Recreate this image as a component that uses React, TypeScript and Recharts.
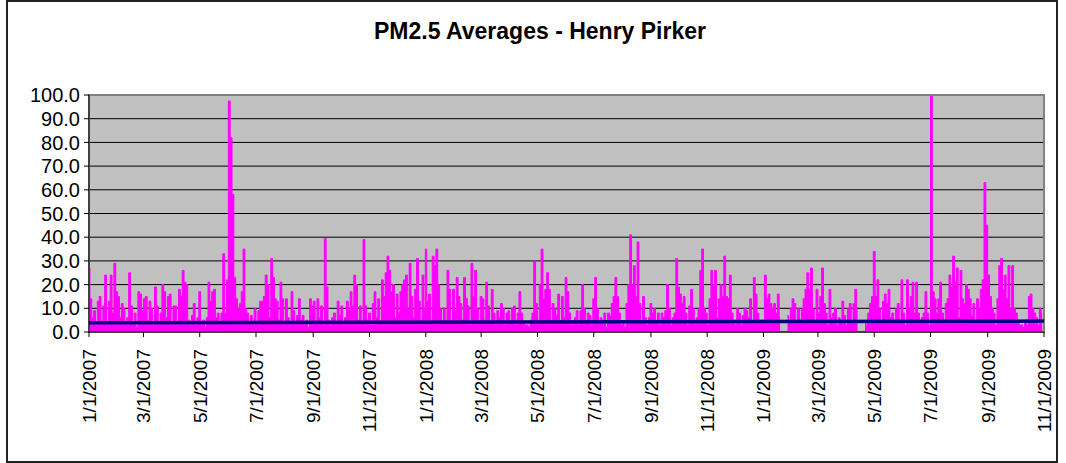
import { ComposedChart, Area, XAxis, YAxis, CartesianGrid, ReferenceLine, ReferenceArea } from 'recharts';

const tickLabels = [
  '1/1/2007', '3/1/2007', '5/1/2007', '7/1/2007', '9/1/2007', '11/1/2007',
  '1/1/2008', '3/1/2008', '5/1/2008', '7/1/2008', '9/1/2008', '11/1/2008',
  '1/1/2009', '3/1/2009', '5/1/2009', '7/1/2009', '9/1/2009', '11/1/2009',
];
const yTicks = [0, 10, 20, 30, 40, 50, 60, 70, 80, 90, 100];

// readings every second day, starting on Jan 1 of each year
const pm2007 = [
  27, 14, 6, 9, 3, 13, 15, 5, 11, 24,
  4, 13, 24, 8, 29, 17, 15, 6, 12, 10,
  3, 6, 25, 11, 4, 8, 2, 17, 16, 9,
  14, 15, 5, 13, 10, 3, 19, 11, 4, 8,
  20, 17, 6, 15, 16, 4, 11, 11, 3, 18,
  15, 26, 21, 20, 5, 3, 7, 12, 3, 6,
  17, 4, 5, 2, 6, 21, 13, 17, 18, 6,
  8, 3, 8, 33, 8, 22, 97.5, 82, 58, 23,
  14, 10, 12, 17, 35, 10, 8, 4, 7, 3,
  10, 4, 9, 13, 13, 15, 24, 20, 6, 31,
  23, 14, 13, 5, 21, 14, 4, 14, 6, 3,
  17, 9, 4, 7, 14, 5, 7, 3, 5, 2,
  14, 11, 13, 4, 14, 6, 11, 3, 39.5, 19,
  5, 3, 6, 8, 4, 13, 7, 11, 3, 6,
  13, 9, 17, 11, 24, 20, 5, 11, 4, 39,
  11, 5, 8, 3, 12, 17, 6, 14, 4, 22,
  15, 25, 32, 26, 17, 20, 6, 16, 8, 17,
  20, 22, 24, 10, 29, 15, 6, 18, 31, 13, 5, 24, 10,
];

const pm2008 = [
  35, 13, 16, 5, 32, 28, 35, 20, 10, 4,
  10, 5, 26, 18, 4, 18, 9, 23, 15, 12,
  5, 23, 14, 11, 3, 29, 15, 26, 10, 4,
  15, 14, 5, 21, 11, 4, 18, 8, 3, 9,
  6, 12, 10, 3, 8, 9, 4, 10, 11, 3,
  8, 17, 8, 4, 3, 3, 2, 5, 8, 30,
  12, 5, 20, 35, 14, 18, 25, 18, 5, 12,
  10, 7, 16, 4, 15, 6, 23, 17, 8, 3,
  4, 6, 9, 3, 9, 20, 10, 4, 8, 7,
  3, 14, 23, 10, 4, 6, 4, 8, 2, 8,
  7, 12, 15, 23, 15, 8, 3, 4, 2, 12,
  20, 41, 20, 28, 15, 38, 12, 4, 15, 6,
  3, 6, 12, 8, 10, 4, 8, 3, 8, 6,
  9, 20, 10, 3, 6, 8, 31, 19, 16, 12,
  15, 8, 3, 11, 18, 10, 4, 6, 10, 26,
  35, 10, 8, 3, 14, 26, 20, 26, 6, 14,
  20, 15, 32, 15, 14, 24, 8, 5, 3, 10,
  8, 3, 7, 10, 9, 6, 14, 4, 23, 16, 8, 5, 5,
];

const pm2009 = [
  5, 24, 14, 16, 12, 10, 12, 8, 16, 6,
  null, null, null, 7, 5, 10, 14, 12, 4, 10,
  5, 10, 14, 18, 25, 18, 27, 10, 4, 18,
  8, 15, 27, 12, 8, 3, 18, 6, 8, 10,
  3, 6, 5, 13, 7, 3, 10, 12, 4, 12,
  18, 9, null, null, null, 5, 3, 8, 12, 15,
  34, 15, 22, 10, 4, 13, 16, 12, 18, 6,
  8, 4, 10, 12, 5, 22, 8, 3, 22, 10,
  15, 21, 8, 21, 8, 4, 6, 8, 17, 8,
  3, 100, 17, 14, 8, 14, 21, 8, 4, 12,
  14, 24, 19, 32, 21, 27, 6, 26, 14, 12,
  20, 18, 14, 7, 12, 4, 14, 10, 18, 22,
  63, 45, 24, 15, 10, 8, 3, 14, 28, 31,
  18, 24, 14, 28, 10, 28, 10, 8, 5, 3,
  3, 2, 5, 3, 15, 16, 10, 8, 6, 3, 10, 8,
];

const trendStart = 3.9;
const trendEnd = 4.6;

const dayOf = (label: string) => {
  const [m, d, y] = label.split('/').map(Number);
  return Math.round((Date.UTC(y, m - 1, d) - Date.UTC(2007, 0, 1)) / 86400000);
};

const xTicks = tickLabels.map(dayOf);
const lastDay = xTicks[xTicks.length - 1];

const years: Array<[string, Array<number | null>]> = [
  ['1/1/2007', pm2007],
  ['1/1/2008', pm2008],
  ['1/1/2009', pm2009],
];
const data = years.flatMap(([start, vals]) =>
  vals.map((v, i) => ({ day: dayOf(start) + 2 * i, pm: v }))
);

const XTick = (props: any) => {
  const { x, y, payload } = props;
  const label = tickLabels[xTicks.indexOf(payload.value)];
  return (
    <g transform={`translate(${x},${y})`}>
      <text x={-12} y={0} dy="0.36em" transform="rotate(-90)" textAnchor="end" fontSize={19} fill="#000">
        {label}
      </text>
    </g>
  );
};

export default function App() {
  return (
    <div style={{ position: 'absolute', left: 0, top: 0, width: 1066, height: 463, background: '#fff', fontFamily: '"Liberation Sans", Arial, sans-serif' }}>
      <div style={{ position: 'absolute', left: 6, top: 0, width: 1048, height: 459, border: '2px solid #222' }} />
      <div style={{ position: 'absolute', left: 0, top: 18, width: 1080, textAlign: 'center', fontWeight: 'bold', fontSize: 23, color: '#000' }}>
        PM2.5 Averages - Henry Pirker
      </div>
      <div style={{ position: 'absolute', left: 0, top: 0 }}>
        <ComposedChart width={1066} height={463} data={data} margin={{ top: 95, right: 22, left: 0, bottom: 0 }}>
          <CartesianGrid vertical={false} stroke="#000" fill="#C0C0C0" />
          <XAxis
            dataKey="day"
            type="number"
            domain={[0, lastDay]}
            ticks={xTicks}
            interval={0}
            height={131}
            stroke="#000"
            tickSize={5}
            tickMargin={0}
            tick={<XTick />}
          />
          <YAxis
            type="number"
            domain={[0, 100]}
            ticks={yTicks}
            interval={0}
            width={89}
            stroke="#000"
            tickSize={5}
            tickMargin={4}
            tick={{ fontSize: 20, fill: '#000' }}
            tickFormatter={(v: number) => v.toFixed(1)}
          />
          <Area
            type="step"
            dataKey="pm"
            stroke="#FF00FF"
            strokeWidth={1}
            fill="#FF00FF"
            fillOpacity={1}
            dot={false}
            activeDot={false}
            isAnimationActive={false}
          />
          <ReferenceLine
            segment={[{ x: 0, y: trendStart }, { x: lastDay, y: trendEnd }]}
            stroke="#000080"
            strokeWidth={3.5}
          />
          <ReferenceArea x1={0} x2={lastDay} y1={0} y2={100} fill="none" stroke="#808080" strokeWidth={2} />
        </ComposedChart>
      </div>
    </div>
  );
}
